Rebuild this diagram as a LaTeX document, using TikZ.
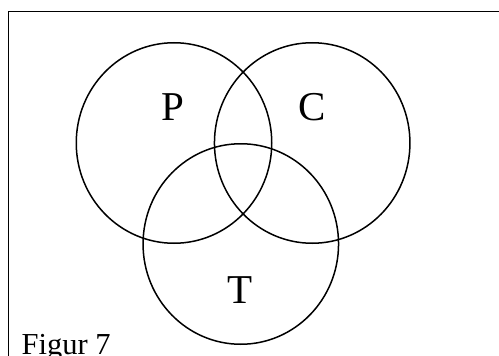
\documentclass[tikz,border=0pt]{standalone}
\usepackage{fontspec}
\setmainfont{Liberation Serif}
\usetikzlibrary{shapes.geometric}
\begin{document}
\begin{tikzpicture}[x=1pt,y=-1pt,
  setcircle/.style={draw, ellipse, line width=1.5pt, inner sep=0pt, minimum width=195.5pt, minimum height=200.5pt},
  biglabel/.style={anchor=base, inner sep=0pt, font=\fontsize{41}{41}\selectfont},
  caption/.style={anchor=base west, inner sep=0pt, font=\fontsize{30.5}{30.5}\selectfont}]
\useasboundingbox (0,0) rectangle (499,356);
\coordinate (fbl) at (8.5,360);
\coordinate (ftl) at (8.5,11.5);
\coordinate (ftr) at (503,11.5);
\draw[line width=1.2pt] (fbl) -- (ftl) -- (ftr);
\node[setcircle] (P) at (174,143) {};
\node[setcircle] (C) at (312.2,143) {};
\node[setcircle] (T) at (240.8,244) {};
\node[biglabel] (Pl) at (173,120) {P};
\node[biglabel] (Cl) at (312,120) {C};
\node[biglabel] (Tl) at (240,303) {T};
\node[caption] (fig) at (21.5,354) {Figur 7};
\end{tikzpicture}
\end{document}
